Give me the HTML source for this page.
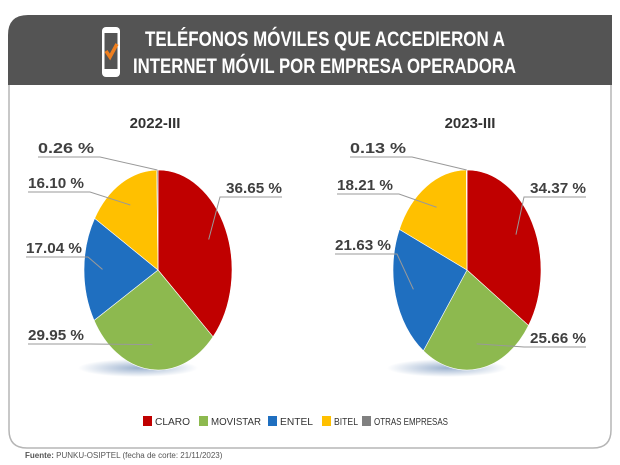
<!DOCTYPE html>
<html><head><meta charset="utf-8"><style>body{margin:0;background:#fff}svg{display:block;font-family:"Liberation Sans",sans-serif}</style></head><body>
<svg width="620" height="465" viewBox="0 0 620 465">
<defs><radialGradient id="sh" cx="0.5" cy="0.5" r="0.5"><stop offset="0" stop-color="#5a7fb0" stop-opacity="0.6"/><stop offset="1" stop-color="#5a7fb0" stop-opacity="0"/></radialGradient></defs>
<path d="M9 85 V430 Q9 448 27 448 H593 Q611 448 611 430 V85" fill="#fff" stroke="#b5b5b5" stroke-width="1.5"/>
<path d="M8 85 V35 Q8 15 28 15 H612 V85 Z" fill="#545454"/>
<g><rect x="102" y="27" width="18" height="50" rx="4" fill="#fff"/><rect x="104.5" y="33" width="13" height="36" fill="#545454"/><path d="M106 51 l4 6 l7 -13" stroke="#f07f1e" stroke-width="3.5" fill="none"/></g>
<text x="145" y="46" font-size="21" font-weight="bold" fill="#fff" textLength="360" lengthAdjust="spacingAndGlyphs">TELÉFONOS MÓVILES QUE ACCEDIERON A</text>
<text x="133" y="73" font-size="21" font-weight="bold" fill="#fff" textLength="383" lengthAdjust="spacingAndGlyphs">INTERNET MÓVIL POR EMPRESA OPERADORA</text>
<g id="pies"></g>
<g font-size="10.5" fill="#333">
<rect x="143" y="416" width="9" height="10" fill="#c00000"/><text x="155" y="425" textLength="35" lengthAdjust="spacingAndGlyphs">CLARO</text>
<rect x="199" y="416" width="9" height="10" fill="#8db94f"/><text x="211" y="425" textLength="50" lengthAdjust="spacingAndGlyphs">MOVISTAR</text>
<rect x="268" y="416" width="9" height="10" fill="#1f6fc0"/><text x="280" y="425" textLength="33" lengthAdjust="spacingAndGlyphs">ENTEL</text>
<rect x="322" y="416" width="9" height="10" fill="#ffc000"/><text x="334" y="425" textLength="24" lengthAdjust="spacingAndGlyphs">BITEL</text>
<rect x="362" y="416" width="9" height="10" fill="#808080"/><text x="374" y="425" textLength="74" lengthAdjust="spacingAndGlyphs">OTRAS EMPRESAS</text>
</g>
<text x="25" y="458" font-size="8" fill="#555"><tspan font-weight="bold">Fuente:</tspan> PUNKU-OSIPTEL (fecha de corte: 21/11/2023)</text>
</svg>
<script>
const categories=["CLARO","MOVISTAR","ENTEL","BITEL","OTRAS EMPRESAS"];
const periods=["2022-III","2023-III"];
const values2022=[36.65,29.95,17.04,16.10,0.26];
const values2023=[34.37,25.66,21.63,18.21,0.13];
const colors=["#c00000","#8db94f","#1f6fc0","#ffc000","#808080"];
const NS="http://www.w3.org/2000/svg";
const g=document.getElementById('pies');
function mk(t,a){const e=document.createElementNS(NS,t);for(const k in a)e.setAttribute(k,a[k]);return e;}
const layouts=[
 {cx:158,cy:270,title:[155,128],labels:[[226,193],[28,340],[26,253],[28,188],[38,153]]},
 {cx:467,cy:270,title:[470,128],labels:[[530,193],[530,343],[335,250],[337,190],[350,153]]}];
const rx=74,ry=100;
[values2022,values2023].forEach((vals,pi)=>{
 const L=layouts[pi];
 const t=mk('text',{x:L.title[0],y:L.title[1],'text-anchor':'middle','font-size':15,'font-weight':'bold',fill:'#333'});
 
 
 t.textContent=periods[pi];g.appendChild(t);
 const sh=mk('ellipse',{cx:L.cx-20,cy:L.cy+ry-2,rx:60,ry:9,fill:'url(#sh)'});
 
 
 g.appendChild(sh);
 const tot=vals.reduce((a,b)=>a+b,0);let acc=0;
 const pt=a=>[L.cx+rx*Math.sin(a),L.cy-ry*Math.cos(a)];
 vals.forEach((v,i)=>{
  const a0=acc/tot*2*Math.PI;acc+=v;const a1=acc/tot*2*Math.PI;
  const p0=pt(a0),p1=pt(a1);
  const p=mk('path',{d:`M${L.cx} ${L.cy} L${p0[0]} ${p0[1]} A${rx} ${ry} 0 ${a1-a0>Math.PI?1:0} 1 ${p1[0]} ${p1[1]} Z`,fill:colors[i],stroke:'#fff','stroke-width':0.6});
  
  
  g.appendChild(p);
  const am=(a0+a1)/2;const k=i==4?1.0:0.75;
  const m=[L.cx+rx*k*Math.sin(am),L.cy-ry*k*Math.cos(am)];
  const [lx,ly]=L.labels[i];const right=lx>L.cx;
  const label=v.toFixed(2)+' %';
  const w=56;const ex=right?lx:lx+w;
  const ln=mk('polyline',{points:`${m[0]},${m[1]} ${right?lx-6:lx+w+6},${ly+4} ${right?lx+w:lx},${ly+4}`,fill:'none',stroke:'#999','stroke-width':1});
  
  
  g.appendChild(ln);
  const tx=mk('text',{x:lx,y:ly,'font-size':15,'font-weight':'bold',fill:'#404040',textLength:w,lengthAdjust:'spacingAndGlyphs'});
  
  
  tx.textContent=label;g.appendChild(tx);
 });
});
</script>
</body></html>
